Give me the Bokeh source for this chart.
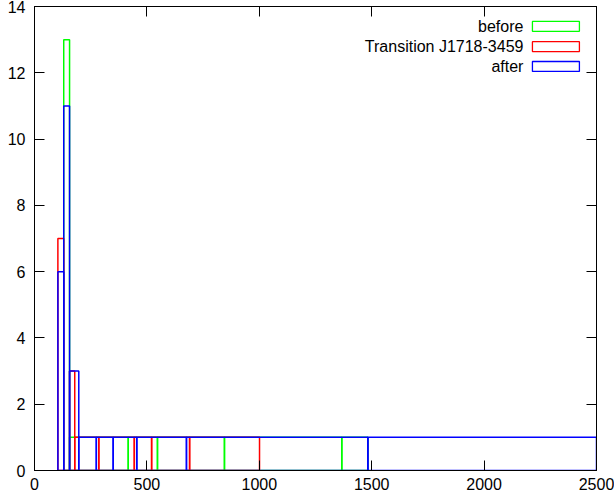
from bokeh.plotting import figure
from bokeh.models import Range1d, LinearAxis, FixedTicker, CustomJSTickFormatter
from bokeh.embed import file_html
from bokeh.resources import INLINE
from bokeh.core.properties import value

# ---- data (bin edges and counts) ----
series_names = ["before", "Transition J1718-3459", "after"]
series_colors = ["#00ff00", "#ff0000", "#0000ff"]

before_edges = [130, 156, 417, 547, 845, 1367, 1483]
before_counts = [13, 1, 1, 1, 1, 1]

transition_edges = [104, 130, 156, 179, 286, 444, 521, 690, 1001]
transition_counts = [7, 0, 3, 1, 1, 1, 1, 1]

after_edges = [104, 130, 156, 197, 275, 350, 455, 676, 1483, 2500]
after_counts = [6, 11, 3, 1, 1, 1, 1, 1, 1]

x_ticks = [0, 500, 1000, 1500, 2000, 2500]
y_ticks = [0, 2, 4, 6, 8, 10, 12, 14]

FONT = "Liberation Sans"

p = figure(width=614, height=503, output_backend="svg", toolbar_location=None,
           x_range=Range1d(0, 2500), y_range=Range1d(0, 14),
           x_axis_location=None, y_axis_location=None,
           min_border_left=34, min_border_right=18, min_border_top=6, min_border_bottom=33)
p.xgrid.visible = False
p.ygrid.visible = False
p.outline_line_color = "black"
p.outline_line_width = 1
p.background_fill_color = "white"
p.border_fill_color = "white"


def style_axis(ax, ticks, labels=True, standoff=8):
    ax.ticker = FixedTicker(ticks=ticks)
    ax.major_tick_in = 10
    ax.major_tick_out = 0
    ax.minor_tick_in = 0
    ax.minor_tick_out = 0
    ax.axis_line_color = "black"
    ax.major_tick_line_color = "black"
    ax.major_label_standoff = standoff
    ax.major_label_text_font = FONT
    ax.major_label_text_font_size = "16px"
    ax.major_label_text_color = "black"
    if not labels:
        ax.formatter = CustomJSTickFormatter(code="return ''")


bottom = LinearAxis()
style_axis(bottom, x_ticks, standoff=7)
p.add_layout(bottom, "below")

left = LinearAxis()
style_axis(left, y_ticks, standoff=9)
left.major_label_text_baseline = "alphabetic"
p.add_layout(left, "left")

top = LinearAxis()
style_axis(top, x_ticks, labels=False, standoff=0)
p.add_layout(top, "above")

right = LinearAxis()
style_axis(right, y_ticks, labels=False, standoff=0)
p.add_layout(right, "right")

# ---- histogram boxes ----
all_series = [(before_edges, before_counts), (transition_edges, transition_counts),
              (after_edges, after_counts)]
for (edges, counts), color in zip(all_series, series_colors):
    p.quad(left=edges[:-1], right=edges[1:], bottom=[0] * len(counts), top=counts,
           fill_color=None, line_color=color, line_width=1.5)

# ---- legend (gnuplot style: text right-aligned, sample box at right) ----
leg_text_x = 2175
leg_box_l, leg_box_r = 2215, 2424
leg_y = [13.40, 12.79, 12.19]
leg_h = 0.15
p.text(x=[leg_text_x] * 3, y=leg_y, text=series_names, text_align="right",
       text_baseline="middle", text_font=value(FONT), text_font_size="16px",
       text_color="black")
p.quad(left=[leg_box_l] * 3, right=[leg_box_r] * 3,
       bottom=[v - leg_h for v in leg_y], top=[v + leg_h for v in leg_y],
       fill_color=None, line_color=series_colors, line_width=1.3)

open("out.html", "w").write(file_html(p, INLINE))
